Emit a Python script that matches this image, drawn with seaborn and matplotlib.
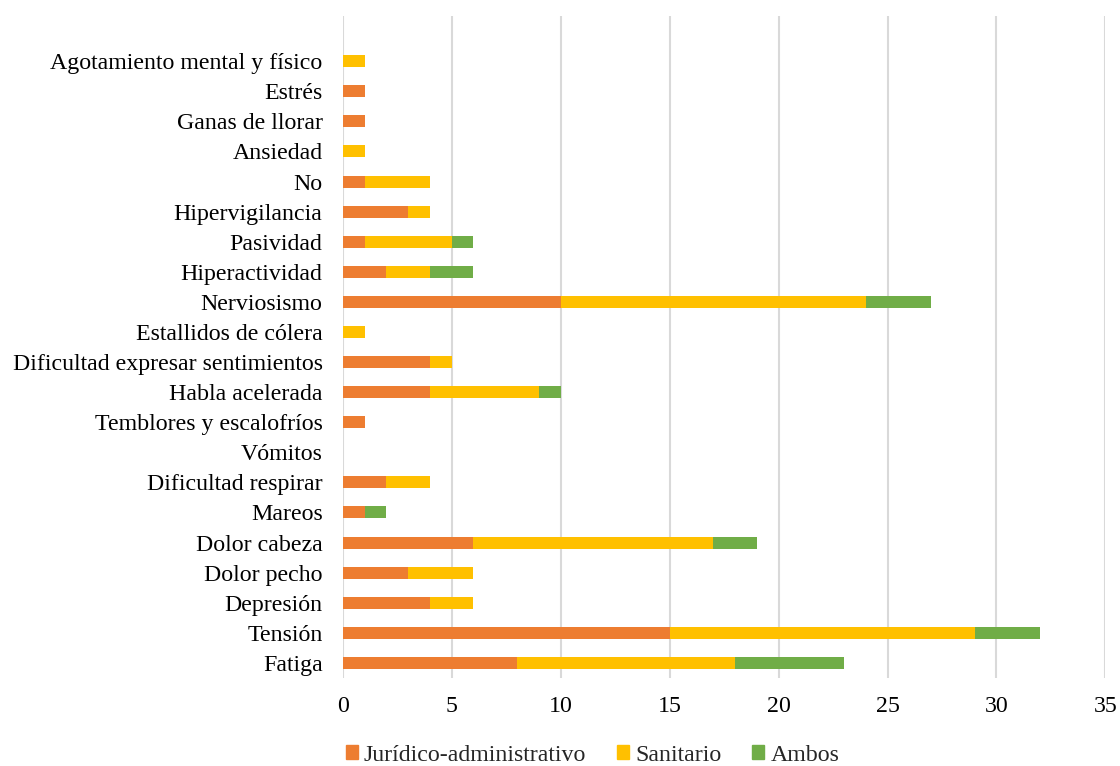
import pandas as pd
import matplotlib
matplotlib.use("Agg")
import matplotlib.pyplot as plt
import seaborn as sns
from matplotlib.patches import Patch

# categorias de arriba hacia abajo
sintomas = ["Agotamiento mental y físico", "Estrés", "Ganas de llorar", "Ansiedad", "No",
            "Hipervigilancia", "Pasividad", "Hiperactividad", "Nerviosismo",
            "Estallidos de cólera", "Dificultad expresar sentimientos", "Habla acelerada",
            "Temblores y escalofríos", "Vómitos", "Dificultad respirar", "Mareos",
            "Dolor cabeza", "Dolor pecho", "Depresión", "Tensión", "Fatiga"]
juridico = [0, 1, 1, 0, 1, 3, 1, 2, 10, 0, 4, 4, 1, 0, 2, 1, 6, 3, 4, 15, 8]
sanitario = [1, 0, 0, 1, 3, 1, 4, 2, 14, 1, 1, 5, 0, 0, 2, 0, 11, 3, 2, 14, 10]
ambos = [0, 0, 0, 0, 0, 0, 1, 2, 3, 0, 0, 1, 0, 0, 0, 1, 2, 0, 0, 3, 5]

colores = {"Jurídico-administrativo": "#ED7D31", "Sanitario": "#FFC000", "Ambos": "#70AD47"}

df = pd.DataFrame({"sintoma": sintomas, "J": juridico, "S": sanitario, "A": ambos})
df["JS"] = df["J"] + df["S"]
df["total"] = df["JS"] + df["A"]

sns.set_style("white")
plt.rcParams["font.family"] = ["Liberation Serif", "DejaVu Serif"]

fig = plt.figure(figsize=(11.2, 7.66), dpi=100)
ax = fig.add_axes([0.306, 0.115, 0.681, 0.864])

# barras apiladas: se dibuja el total y encima las sumas parciales
for col, nombre in [("total", "Ambos"), ("JS", "Sanitario"), ("J", "Jurídico-administrativo")]:
    sns.barplot(data=df, x=col, y="sintoma", order=sintomas, color=colores[nombre],
                width=0.4, orient="h", ax=ax, saturation=1, linewidth=0, zorder=3)

ax.set_xlim(0, 35)
ax.set_xticks(range(0, 36, 5))
ax.set_ylim(20.5, -1.5)
ax.set_xlabel("")
ax.set_ylabel("")
ax.grid(axis="x", color="#d9d9d9", linewidth=1.5, zorder=0)
ax.grid(axis="y", visible=False)
for s in ax.spines.values():
    s.set_visible(False)
ax.tick_params(axis="both", length=0, labelsize=17.2, colors="black")
ax.tick_params(axis="x", pad=13)
ax.tick_params(axis="y", pad=14.5)

handles = [Patch(color=c, label=k) for k, c in colores.items()]
fig.legend(handles=handles, loc="center", bbox_to_anchor=(0.529, 0.014), ncol=3,
           frameon=False, fontsize=17.2, handlelength=0.5, handleheight=0.5,
           handletextpad=0.25, columnspacing=1.3, borderpad=0)

fig.savefig("out.png", dpi=100)
